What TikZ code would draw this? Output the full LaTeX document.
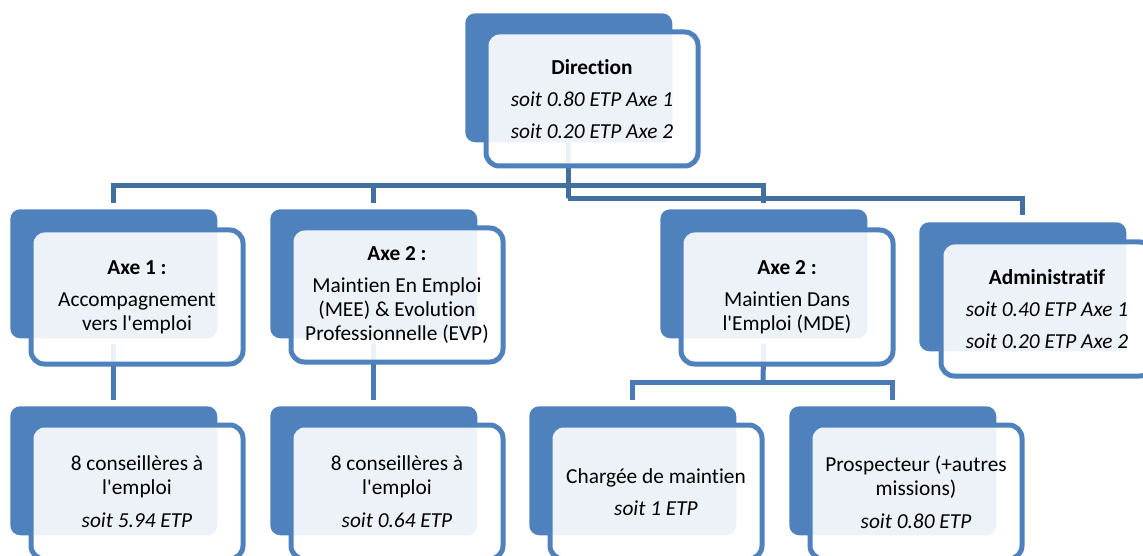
\documentclass[tikz,border=0pt]{standalone}
\usepackage{fontspec}
\setmainfont{Carlito}[Ligatures={TeXOff,CommonOff}]
\definecolor{bleu}{HTML}{4F81BD}
\definecolor{lienhaut}{HTML}{41709F}
\definecolor{lienbas}{HTML}{4A7AB5}

\begin{document}
\begin{tikzpicture}[x=0.75pt,y=-0.75pt,
  dos/.style={fill=bleu, rounded corners=7.5pt, minimum width=155.25pt,
    minimum height=96.75pt, inner sep=0pt, anchor=north west},
  face/.style={draw=bleu, line width=3.75pt, fill=white, fill opacity=0.9,
    text opacity=1, rounded corners=10pt, minimum width=159pt,
    minimum height=100.5pt, inner sep=0pt, align=center,
    font=\fontsize{16pt}{18pt}\selectfont},
  lienh/.style={draw=lienhaut, line width=3.75pt},
  lienb/.style={draw=lienbas, line width=3.75pt}]

\useasboundingbox (0,0) rectangle (1143,556);
\clip (0,0) rectangle (1143,556);

% blocs du fond
\node[dos] (dir) at (465,13) {};
\node[dos] (ax1) at (10,209) {};
\node[dos] (mee) at (270,209) {};
\node[dos] (mde) at (660,209) {};
\node[dos] (adm) at (919,222) {};
\node[dos] (cons1) at (10,406) {};
\node[dos] (cons2) at (270,406) {};
\node[dos] (charg) at (529,406) {};
\node[dos] (prosp) at (789,406) {};

% liens
\coordinate (barre) at (568,186);
\coordinate (coin) at (568,199);
\coordinate (barre2) at (763,382);

\draw[lienh] ([yshift=4.5pt]ax1.north) |- (barre) -| ([yshift=4.5pt]mde.north);
\draw[lienh] ([yshift=4.5pt]mee.north) -- (mee.north |- barre);
\draw[lienh] (dir.south) |- (coin) -| ([yshift=5.25pt]adm.north);

\draw[lienb] ([yshift=-3.75pt]ax1.south) -- ([yshift=4.5pt]cons1.north);
\draw[lienb] ([yshift=-3.75pt]mee.south) -- ([yshift=4.5pt]cons2.north);
\draw[lienb] ([yshift=-3.75pt]mde.south) -- (barre2);
\draw[lienb] ([yshift=4.5pt]charg.north) |- (barre2) -| ([yshift=4.5pt]prosp.north);

% blocs du dessus
\node[face] (dirT) at (592,99)
  {\textbf{Direction}\\[6pt]\textit{soit 0.80 ETP Axe 1}\\[6pt]\textit{soit 0.20 ETP Axe 2}};
\node[face] (ax1T) at (137,297)
  {\textbf{Axe 1 :}\\[6pt]Accompagnement\\vers l'emploi};
\node[face] (meeT) at (397,295)
  {\textbf{Axe 2 :}\\[6pt]Maintien En Emploi\\(MEE) \& Evolution\\Professionnelle (EVP)};
\node[face] (mdeT) at (787,297)
  {\textbf{Axe 2 :}\\[6pt]Maintien Dans\\l'Emploi (MDE)};
\node[face] (admT) at (1047,309)
  {\textbf{Administratif}\\[6pt]\textit{soit 0.40 ETP Axe 1}\\[6pt]\textit{soit 0.20 ETP Axe 2}};
\node[face] (cons1T) at (137,492)
  {8 conseillères à\\l'emploi\\[7pt]\textit{soit 5.94 ETP}};
\node[face] (cons2T) at (397,492)
  {8 conseillères à\\l'emploi\\[7pt]\textit{soit 0.64 ETP}};
\node[face] (chargT) at (656,492)
  {Chargée de maintien\\[6pt]\textit{soit 1 ETP}};
\node[face] (prospT) at (916,492)
  {Prospecteur (+autres\\missions)\\[7pt]\textit{soit 0.80 ETP}};

\end{tikzpicture}
\end{document}
